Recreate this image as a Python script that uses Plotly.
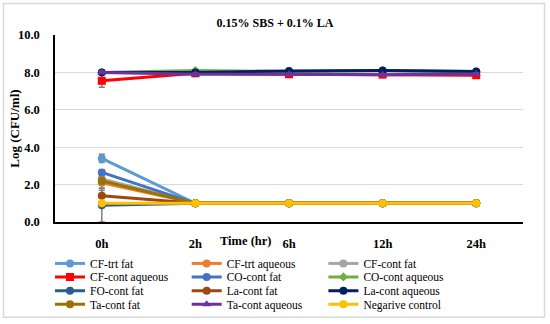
import plotly.graph_objects as go

categories = ["0h", "2h", "6h", "12h", "24h"]

names = ["CF-trt fat", "CF-trt aqueous", "CF-cont fat",
         "CF-cont aqueous", "CO-cont fat", "CO-cont aqueous",
         "FO-cont fat", "La-cont fat", "La-cont aqueous",
         "Ta-cont fat", "Ta-cont aqueous", "Negarive control"]

cf_trt_fat = [3.4, 1.0, 1.0, 1.0, 1.0]
cf_trt_aq = [2.1, 1.0, 1.0, 1.0, 1.0]
cf_cont_fat = [2.3, 1.0, 1.0, 1.0, 1.0]
cf_cont_aq = [7.55, 7.95, 7.9, 7.88, 7.85]
co_cont_fat = [2.65, 1.0, 1.0, 1.0, 1.0]
co_cont_aq = [8.0, 8.1, 8.05, 8.1, 8.05]
fo_cont_fat = [0.9, 1.0, 1.0, 1.0, 1.0]
la_cont_fat = [1.4, 1.0, 1.0, 1.0, 1.0]
la_cont_aq = [8.0, 8.0, 8.08, 8.1, 8.05]
ta_cont_fat = [2.2, 1.0, 1.0, 1.0, 1.0]
ta_cont_aq = [8.0, 7.9, 7.9, 7.88, 7.92]
neg_control = [1.0, 1.0, 1.0, 1.0, 1.0]

err_cf_trt_fat = [0.22, 0, 0, 0, 0]
err_cf_trt_aq = [0.3, 0, 0, 0, 0]
err_cf_cont_fat = [0.25, 0, 0, 0, 0]
err_cf_cont_aq = [0.35, 0.05, 0.05, 0.05, 0.05]
err_co_cont_fat = [0.15, 0, 0, 0, 0]
err_co_cont_aq = [0.05, 0.05, 0.05, 0.05, 0.05]
err_fo_cont_fat = [0.9, 0, 0, 0, 0]
err_la_cont_fat = [0.3, 0, 0, 0, 0]
err_la_cont_aq = [0.05, 0.05, 0.05, 0.05, 0.05]
err_ta_cont_fat = [0.2, 0, 0, 0, 0]
err_ta_cont_aq = [0.05, 0.05, 0.05, 0.05, 0.05]
err_neg = [0, 0, 0, 0, 0]

series = [cf_trt_fat, cf_trt_aq, cf_cont_fat, cf_cont_aq, co_cont_fat, co_cont_aq,
          fo_cont_fat, la_cont_fat, la_cont_aq, ta_cont_fat, ta_cont_aq, neg_control]
errors = [err_cf_trt_fat, err_cf_trt_aq, err_cf_cont_fat, err_cf_cont_aq,
          err_co_cont_fat, err_co_cont_aq, err_fo_cont_fat, err_la_cont_fat,
          err_la_cont_aq, err_ta_cont_fat, err_ta_cont_aq, err_neg]
colors = ["#5B9BD5", "#ED7D31", "#A5A5A5", "#FF0000", "#4472C4", "#70AD47",
          "#255E91", "#9E480E", "#002060", "#997300", "#7030A0", "#FFC000"]
symbols = ["circle", "circle", "circle", "square", "circle", "diamond",
           "circle", "circle", "circle", "circle", "triangle-up", "circle"]

SERIF = "Liberation Serif"

fig = go.Figure()
for i, (n, y, e, c, s) in enumerate(zip(names, series, errors, colors, symbols)):
    leg = "legend" if i < 3 else "legend%d" % (i // 3 + 1)
    fig.add_trace(go.Scatter(
        x=categories, y=y, name=n, mode="lines+markers",
        line=dict(color=c, width=3),
        marker=dict(color=c, size=8 if s != "diamond" else 7, symbol=s),
        error_y=dict(type="data", array=e, visible=True, color="#7F7F7F",
                     thickness=1.5, width=3),
        legend=leg,
    ))

leg_common = dict(orientation="h", xanchor="left", yanchor="top",
                  x=-0.0107, entrywidth=91.7, entrywidthmode="pixels",
                  itemwidth=30, bgcolor="rgba(0,0,0,0)", borderwidth=0,
                  font=dict(family=SERIF, size=11.5, color="black"))
row_y = [-0.144, -0.216, -0.2907, -0.3627]

fig.update_layout(
    width=550, height=324,
    margin=dict(l=55, r=27, t=35, b=101.5, autoexpand=False),
    paper_bgcolor="white", plot_bgcolor="white",
    showlegend=True,
    legend=dict(y=row_y[0], **leg_common),
    legend2=dict(y=row_y[1], **leg_common),
    legend3=dict(y=row_y[2], **leg_common),
    legend4=dict(y=row_y[3], **leg_common),
    xaxis=dict(type="category", range=[-0.5, 4.5], showgrid=False,
               showline=True, linecolor="black", linewidth=1.5,
               ticks="", ticklabelstandoff=9,
               tickfont=dict(family=SERIF, size=12.5, color="black", weight="bold")),
    yaxis=dict(range=[0, 10], dtick=2, tickformat=".1f", showgrid=True,
               gridcolor="#D9D9D9", gridwidth=1, zeroline=False,
               showline=True, linecolor="black", linewidth=1.5,
               ticks="", ticklabelstandoff=11,
               tickfont=dict(family=SERIF, size=12.5, color="black", weight="bold")),
    title=dict(text="<b>0.15% SBS + 0.1% LA</b>", x=0.5, xanchor="center",
               y=1 - 23 / 324, yanchor="middle", yref="container",
               font=dict(family=SERIF, size=12, color="black")),
    annotations=[
        dict(text="<b>Time (hr)</b>", xref="paper", yref="paper",
             x=(246 - 55) / 468, y=(222.5 - 241.7) / 187.5,
             xanchor="center", yanchor="middle", showarrow=False,
             font=dict(family=SERIF, size=12.5, color="black")),
        dict(text="<b>Log (CFU/ml)</b>", xref="paper", yref="paper",
             x=(15 - 55) / 468, y=(222.5 - 129) / 187.5, textangle=-90,
             xanchor="center", yanchor="middle", showarrow=False,
             font=dict(family=SERIF, size=13, color="black")),
    ],
    shapes=[dict(type="rect", xref="paper", yref="paper",
                 x0=(3.5 - 55) / 468, x1=(544.5 - 55) / 468,
                 y0=(222.5 - 318) / 187.5, y1=(222.5 - 3.5) / 187.5,
                 line=dict(color="#D9D9D9", width=1.5), layer="below")],
)

fig.write_html("out.html", config={"displayModeBar": False},
               post_script="document.body.style.margin='0px';")
